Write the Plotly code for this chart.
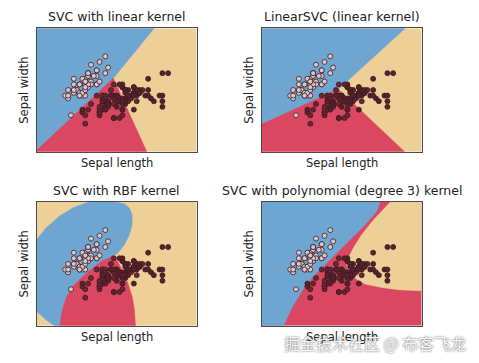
import plotly.graph_objects as go

# Iris data: sepal length / sepal width, classes 0..2
sepal_length = [
    5.1,4.9,4.7,4.6,5.0,5.4,4.6,5.0,4.4,4.9,5.4,4.8,4.8,4.3,5.8,5.7,5.4,5.1,5.7,5.1,
    5.4,5.1,4.6,5.1,4.8,5.0,5.0,5.2,5.2,4.7,4.8,5.4,5.2,5.5,4.9,5.0,5.5,4.9,4.4,5.1,
    5.0,4.5,4.4,5.0,5.1,4.8,5.1,4.6,5.3,5.0,
    7.0,6.4,6.9,5.5,6.5,5.7,6.3,4.9,6.6,5.2,5.0,5.9,6.0,6.1,5.6,6.7,5.6,5.8,6.2,5.6,
    5.9,6.1,6.3,6.1,6.4,6.6,6.8,6.7,6.0,5.7,5.5,5.5,5.8,6.0,5.4,6.0,6.7,6.3,5.6,5.5,
    5.5,6.1,5.8,5.0,5.6,5.7,5.7,6.2,5.1,5.7,
    6.3,5.8,7.1,6.3,6.5,7.6,4.9,7.3,6.7,7.2,6.5,6.4,6.8,5.7,5.8,6.4,6.5,7.7,7.7,6.0,
    6.9,5.6,7.7,6.3,6.7,7.2,6.2,6.1,6.4,7.2,7.4,7.9,6.4,6.3,6.1,7.7,6.3,6.4,6.0,6.9,
    6.7,6.9,5.8,6.8,6.7,6.7,6.3,6.5,6.2,5.9]
sepal_width = [
    3.5,3.0,3.2,3.1,3.6,3.9,3.4,3.4,2.9,3.1,3.7,3.4,3.0,3.0,4.0,4.4,3.9,3.5,3.8,3.8,
    3.4,3.7,3.6,3.3,3.4,3.0,3.4,3.5,3.4,3.2,3.1,3.4,4.1,4.2,3.1,3.2,3.5,3.6,3.0,3.4,
    3.5,2.3,3.2,3.5,3.8,3.0,3.8,3.2,3.7,3.3,
    3.2,3.2,3.1,2.3,2.8,2.8,3.3,2.4,2.9,2.7,2.0,3.0,2.2,2.9,2.9,3.1,3.0,2.7,2.2,2.5,
    3.2,2.8,2.5,2.8,2.9,3.0,2.8,3.0,2.9,2.6,2.4,2.4,2.7,2.7,3.0,3.4,3.1,2.3,3.0,2.5,
    2.6,3.0,2.6,2.3,2.7,3.0,2.9,2.9,2.5,2.8,
    3.3,2.7,3.0,2.9,3.0,3.0,2.5,2.9,2.5,3.6,3.2,2.7,3.0,2.5,2.8,3.2,3.0,3.8,2.6,2.2,
    3.2,2.8,2.8,2.7,3.3,3.2,2.8,3.0,2.8,3.0,2.8,3.8,2.8,2.8,2.6,3.0,3.4,3.1,3.0,3.1,
    3.1,3.1,2.7,3.2,3.3,3.0,2.5,3.0,3.4,3.0]
species = [0] * 50 + [1] * 50 + [2] * 50

titles = ["SVC with linear kernel", "LinearSVC (linear kernel)",
          "SVC with RBF kernel", "SVC with polynomial (degree 3) kernel"]
x_label = "Sepal length"
y_label = "Sepal width"
x_range = [3.3, 8.9]
y_range = [1.0, 5.4]

# Decision-region outlines, per subplot
# Subplot 1: SVC linear  (background class 2)
lin_blue_x = [3.3, 7.41, 5.98, 3.3]
lin_blue_y = [5.4, 5.4, 3.62, 1.05]
lin_red_x = [3.3, 5.98, 7.15, 3.3]
lin_red_y = [1.05, 3.62, 1.0, 1.0]
# Subplot 2: LinearSVC
lsvc_blue_x = [3.3, 8.32, 5.98, 3.3]
lsvc_blue_y = [5.4, 5.4, 3.23, 1.98]
lsvc_red_x = [3.3, 5.98, 8.30, 3.3]
lsvc_red_y = [1.98, 3.23, 1.0, 1.0]
# Subplot 3: RBF
rbf_blue_x = [3.3, 3.627, 4.093, 4.56, 5.027, 5.202, 6.077, 6.368, 6.543, 6.637, 6.637,
              6.543, 6.368, 6.135, 5.96, 5.61, 5.26, 4.91, 4.56, 4.327, 4.187, 4.117,
              3.918, 3.627, 3.3]
rbf_blue_y = [4.06, 4.475, 4.89, 5.187, 5.364, 5.4, 5.4, 5.329, 5.187, 4.95, 4.594,
              4.238, 3.882, 3.585, 3.467, 3.313, 3.052, 2.755, 2.4, 1.984, 1.51, 1.0,
              1.0, 1.213, 1.51]
rbf_red_x = [5.96, 5.61, 5.26, 4.91, 4.56, 4.327, 4.187, 4.117, 6.753, 6.718, 6.637,
             6.485, 6.31, 6.135]
rbf_red_y = [3.467, 3.313, 3.052, 2.755, 2.4, 1.984, 1.51, 1.0, 1.0, 1.569, 2.044,
             2.518, 2.933, 3.289]
# Subplot 4: polynomial (background class 1)
poly_blue_x = [3.3, 7.442, 7.325, 6.917, 6.45, 5.983, 5.517, 5.05, 4.7, 4.35, 4.058, 3.3]
poly_blue_y = [5.4, 5.4, 5.068, 4.594, 4.119, 3.645, 3.17, 2.696, 2.221, 1.629, 1.0, 1.0]
poly_tan_x = [7.792, 8.9, 8.9, 8.083, 7.5, 6.917, 6.567, 6.333, 6.275, 6.333, 6.508, 6.8, 7.267]
poly_tan_y = [5.4, 5.4, 2.245, 2.281, 2.364, 2.483, 2.696, 2.992, 3.17, 3.408, 3.764, 4.238, 4.831]

region_colors = ["#6ea6d1", "#da4760", "#eecf97"]
point_fill = ["#d8c6ca", "#6e2632", "#5a202b"]
point_edge = "#3a1c22"

panels = [
    (2, [(lin_blue_x, lin_blue_y, 0), (lin_red_x, lin_red_y, 1)]),
    (2, [(lsvc_blue_x, lsvc_blue_y, 0), (lsvc_red_x, lsvc_red_y, 1)]),
    (2, [(rbf_blue_x, rbf_blue_y, 0), (rbf_red_x, rbf_red_y, 1)]),
    (1, [(poly_blue_x, poly_blue_y, 0), (poly_tan_x, poly_tan_y, 2)]),
]

W, H = 479, 363
xdom = [[36.7 / W, 196.7 / W], [261.7 / W, 421.7 / W]]
ydom = [[(H - 151.7) / H, (H - 28.3) / H], [(H - 325.8) / H, (H - 202) / H]]

fig = go.Figure()
annotations = []
font = "DejaVu Sans"
for i, (bg, regions) in enumerate(panels):
    r, c = divmod(i, 2)
    ax = "" if i == 0 else str(i + 1)
    xa, ya = "x" + ax, "y" + ax
    # background region
    fig.add_trace(go.Scatter(
        x=[x_range[0], x_range[1], x_range[1], x_range[0]],
        y=[y_range[0], y_range[0], y_range[1], y_range[1]],
        fill="toself", fillcolor=region_colors[bg], mode="lines",
        line=dict(width=0), hoverinfo="skip", showlegend=False, xaxis=xa, yaxis=ya))
    for px, py, cls in regions:
        fig.add_trace(go.Scatter(
            x=px, y=py, fill="toself", fillcolor=region_colors[cls], mode="lines",
            line=dict(width=0.6, color=region_colors[cls]), hoverinfo="skip",
            showlegend=False, xaxis=xa, yaxis=ya))
    for cls in range(3):
        idx = [k for k, s in enumerate(species) if s == cls]
        fig.add_trace(go.Scatter(
            x=[sepal_length[k] for k in idx], y=[sepal_width[k] for k in idx],
            mode="markers",
            marker=dict(size=5, color=point_fill[cls], line=dict(width=0.8, color=point_edge)),
            showlegend=False, xaxis=xa, yaxis=ya))
    axcfg = dict(showticklabels=False, ticks="", showgrid=False, zeroline=False,
                 showline=True, mirror=True, linecolor="#4a4a4a", linewidth=1)
    fig.update_layout(**{
        "xaxis" + ax: dict(domain=xdom[c], range=x_range, anchor=ya, **axcfg),
        "yaxis" + ax: dict(domain=ydom[r], range=y_range, anchor=xa, **axcfg),
    })
    xc = (xdom[c][0] + xdom[c][1]) / 2
    annotations.append(dict(text=titles[i], x=xc, y=ydom[r][1] + 2 / H, xref="paper", yref="paper",
                            xanchor="center", yanchor="bottom", showarrow=False,
                            font=dict(family=font, size=12.5, color="#222")))
    annotations.append(dict(text=x_label, x=xc, y=ydom[r][0] - 2 / H, xref="paper", yref="paper",
                            xanchor="center", yanchor="top", showarrow=False,
                            font=dict(family=font, size=11.5, color="#222")))
    annotations.append(dict(text=y_label, x=xdom[c][0] - 4 / W, y=(ydom[r][0] + ydom[r][1]) / 2,
                            xref="paper", yref="paper", xanchor="right", yanchor="middle",
                            textangle=-90, showarrow=False,
                            font=dict(family=font, size=11.5, color="#222")))

annotations.append(dict(text="掘金技术社区 @ 布客飞龙", x=375 / W, y=(H - 343) / H,
                        xref="paper", yref="paper", xanchor="center", yanchor="middle",
                        showarrow=False,
                        font=dict(family="Noto Sans CJK SC", size=16, color="#f6f6f6",
                                  shadow="0px 0px 2px #444")))

fig.update_layout(width=W, height=H, margin=dict(l=0, r=0, t=0, b=0),
                  paper_bgcolor="white", plot_bgcolor="white",
                  annotations=annotations)
fig.write_html("out.html", config={"displayModeBar": False},
               post_script="document.body.style.margin='0';")
